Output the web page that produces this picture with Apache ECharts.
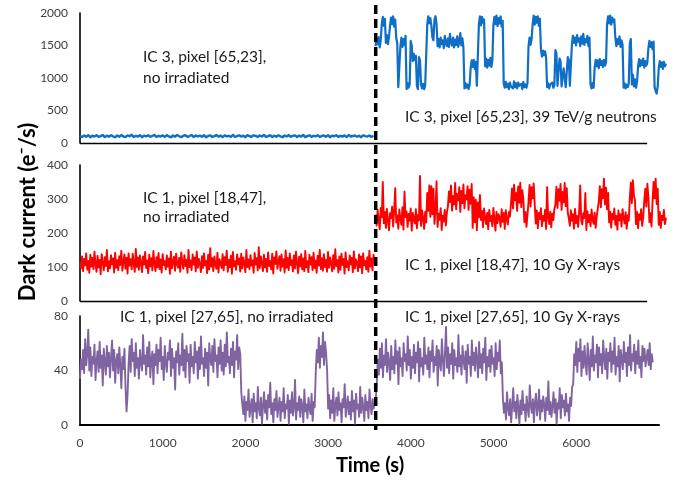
<!DOCTYPE html>
<html>
<head>
<meta charset="utf-8">
<script src="https://cdn.jsdelivr.net/npm/echarts@6/dist/echarts.min.js"></script>
<style>
  html, body { margin: 0; padding: 0; background: #fff; }
  #chart { width: 684px; height: 483px; }
</style>
</head>
<body>
<div id="chart"></div>
<script>
// Readings are evenly spaced. The unirradiated IC 3 run is stored every 25 s,
// every other trace every 12.5 s.
const coarseStep = 25;
const fineStep = 12.5;
const preStart = 0;
const postStart = 3575;
const dividerTime = 3575;
// the upper two panels draw their time baseline only up to here
const upperBaselineEnd = 6860;

const timeTicks = [0, 1000, 2000, 3000, 4000, 5000, 6000];

// IC 3, pixel [65,23] (e-/s), not irradiated, 25 s spacing
const ic3Before = [
  108,92,115,96,121,88,112,99,118,94,
  106,124,90,113,97,119,102,87,116,95,
  122,100,91,117,105,126,93,110,98,120,
  89,114,103,118,96,108,125,92,111,99,
  117,94,121,101,88,115,97,123,104,90,
  112,119,95,107,124,91,116,100,113,96,
  120,87,109,118,93,106,122,98,114,90,
  119,102,111,95,125,92,108,117,99,113,
  89,121,104,96,118,110,93,116,100,123,
  94,107,120,91,112,97,119,103,88,115,
  101,122,96,109,117,92,114,99,124,90,
  106,118,95,111,102,120,93,108,116,97,
  121,89,113,104,119,94,110,98,117,92,
  123,100,107,115,96,112,90,118,105,99,
  116,94,111
];
// IC 3, pixel [65,23] (e-/s), 39 TeV/g neutrons, 12.5 s spacing
const ic3After = [
  1490,1610,1520,1630,1470,1580,
  1830,1940,1800,1910,
  1540,1660,1520,1630,
  1800,1930,1830,1950,1790,1900,
  1620,1530,
  860,830,1480,
  1620,1480,1600,1510,1650,
  830,920,850,900,
  1570,1500,
  1260,1370,1280,1340,
  880,830,1320,1270,900,840,910,830,880,850,
  1820,1950,1840,1920,1810,1620,1580,1900,1950,1830,
  1490,1600,1470,1620,1520,1580,1460,1650,1530,1490,1610,1480,1680,
  1540,1500,1620,1470,1590,1510,1640,1480,1560,1690,1500,1610,1470,
  840,920,850,900,830,890,
  1150,1270,1170,1280,1140,1250,
  880,850,
  1830,1950,1810,1940,1850,1900,
  1180,1300,1160,1280,1190,1310,1170,1260,
  1810,1940,1830,1960,1800,1920,1840,1950,1790,1880,
  920,850,940,860,910,830,930,870,900,840,950,860,
  920,840,930,880,850,910,830,940,860,900,850,920,
  1490,1620,1510,1600,
  1830,1960,1820,1940,1850,1950,1800,1910,
  1440,1330,1420,1350,1410,1320,
  860,920,840,900,870,930,850,890,
  1430,1380,880,860,1300,1260,870,900,1150,1180,860,880,1320,1280,880,850,
  1520,1650,1540,1620,1500,1660,1560,1610,1490,
  1640,1530,1680,1510,1600,1550,1650,1490,1620,
  900,840,920,850,
  1160,1280,1180,1270,1150,1290,1200,1260,1170,1280,1190,1240,
  1830,1950,1840,1960,1820,1930,1860,1900,
  1620,1490,1600,1520,1640,1480,1580,1510,
  850,920,840,900,860,910,
  1530,1600,
  900,1050,870,980,850,940,
  1170,1290,1180,1270,1200,1300,1160,1260,1190,1240,
  1460,1570,1480,1550,1440,1560,
  860,800,760,870,
  1150,1260,1170,1240,1140,1250,1180,1220
];

// IC 1, pixel [18,47] (e-/s), not irradiated, 12.5 s spacing
const ic1aBefore = [
  112,96,131,88,124,105,140,92,118,83,136,101,
  127,94,145,109,86,133,99,121,79,138,114,90,
  129,103,150,87,117,96,135,108,125,84,142,98,
  120,91,132,106,148,89,115,137,95,127,81,140,
  104,123,93,139,110,86,153,100,128,92,134,113,
  85,131,107,144,97,119,82,136,102,126,90,147,
  111,88,129,99,141,94,122,84,138,106,117,93,
  134,101,125,80,145,96,116,130,89,139,108,98,
  127,86,143,112,95,135,103,121,83,150,100,119,
  91,137,107,128,87,146,98,124,110,85,132,97,
  140,104,118,82,136,93,155,101,126,88,131,109,
  95,142,84,123,113,97,138,90,129,106,148,86,
  121,99,133,80,144,102,117,92,137,108,125,87,
  139,96,128,111,85,150,100,122,94,135,104,119,
  83,141,107,126,90,158,97,131,112,88,136,99,
  124,86,143,103,118,93,139,81,128,109,146,95,
  115,132,89,137,101,123,84,149,98,127,91,140,
  106,120,87,134,96,145,110,82,130,102,138,93,
  125,88,147,99,117,85,136,107,129,91,142,97,
  119,83,133,104,150,94,126,89,138,100,121,86,
  144,98,128,111,87,135,95,152,103,120,84,131,
  92,139,106,124,81,143,100,117,90,134,108,127,
  85,146,96,122,113,88,137,99,131,82,140,105,
  118,93,129,86,148,101,125,90,136,110
];
// IC 1, pixel [18,47] (e-/s), 10 Gy X-rays, 12.5 s spacing
const ic1aAfter = [
  255,222,268,238,211,274,246,350,229,262,215,271,
  236,208,258,244,277,219,265,332,231,252,213,269,
  240,224,276,210,322,247,263,218,256,236,272,207,
  259,243,228,270,214,253,237,368,221,266,245,212,
  262,231,318,265,340,248,338,255,330,227,264,352,
  218,257,239,273,209,251,234,268,222,260,
  278,322,291,340,266,309,284,347,270,315,296,335,
  262,324,288,343,273,311,299,338,268,327,286,344,
  215,305,232,298,208,290,246,312,
  238,265,217,272,244,226,259,211,268,235,250,220,274,241,207,
  263,229,255,246,218,270,233,259,212,267,240,225,262,248,
  285,331,272,342,296,318,265,337,289,348,276,326,300,
  232,262,218,254,
  290,341,278,335,302,346,285,
  228,266,214,259,241,273,220,250,236,268,212,335,247,226,263,217,257,238,270,
  283,336,274,329,295,344,268,321,290,347,279,332,260,
  243,221,267,236,255,213,271,229,250,218,262,340,238,225,258,
  244,318,209,264,232,253,220,269,239,227,260,215,248,272,
  292,338,276,329,302,360,284,333,270,318,
  231,263,216,257,240,272,224,250,210,266,237,255,219,270,245,228,261,213,252,236,
  300,348,288,355,310,296,
  226,262,214,255,239,270,221,248,
  295,330,278,345,305,
  232,258,219,
  290,350,302,360,285,330,
  224,262,215,251,238,268,226,245
];

// IC 1, pixel [27,65] (e-/s), not irradiated, 12.5 s spacing
const ic1bBefore = [
  34,48,41,55,38,63,44,52,70,40,57,36,
  50,45,59,33,47,54,39,61,42,51,29,56,
  46,37,58,43,53,35,49,62,40,55,31,47,
  52,38,57,44,27,50,41,56,28,10,22,45,
  58,39,63,47,53,36,60,42,49,34,55,46,
  40,66,45,51,37,57,43,61,35,48,54,30,
  52,44,59,38,55,47,64,41,50,33,58,45,
  39,53,48,62,36,56,42,49,26,54,46,60,
  37,51,44,67,40,55,35,58,47,52,31,59,
  43,50,38,61,46,54,34,57,41,65,45,49,
  36,56,42,53,29,60,48,44,58,39,63,47,
  51,35,57,45,62,40,53,37,59,43,68,46,
  50,38,56,44,61,35,54,48,66,41,57,52,
  24,
  15,8,21,3,17,11,26,6,13,19,2,23,
  10,16,5,28,12,7,20,1,14,24,9,18,
  4,22,13,31,8,16,2,19,11,25,6,14,
  20,3,17,10,27,5,15,12,22,1,18,9,
  24,7,13,33,4,16,11,21,6,19,14,2,
  26,10,15,5,20,12,8,23,3,17,13,
  38,55,46,64,42,58,50,68,44,61,53,40,
  12,22,5,18,9,27,3,15,20,7,24,11,
  16,2,19,13,30,6,14,21,8,17,4,25,
  10,18,1,23,12,15,6,28,9,20,13,3,
  22,11,17,5,26,14,8,19,12,16
];
// IC 1, pixel [27,65] (e-/s), 10 Gy X-rays, 12.5 s spacing
const ic1bAfter = [
  18,30,
  48,37,56,42,60,35,51,44,63,39,53,46,
  33,58,41,50,38,62,45,54,30,57,43,49,
  36,60,47,52,40,65,44,55,34,50,42,59,
  38,53,46,61,32,56,43,49,37,64,45,51,
  41,57,35,54,47,62,39,50,44,58,29,55,
  46,40,63,48,36,53,72,42,57,38,52,45,
  60,34,55,44,49,39,66,43,51,37,58,47,
  41,54,31,59,45,50,36,62,44,53,40,57,
  48,35,61,42,52,38,56,46,64,33,50,43,
  55,39,58,45,49,36,60,41,53,47,62,38,
  46,
  20,9,16,4,24,12,7,19,2,14,27,10,
  17,5,22,13,1,18,8,25,11,15,3,21,
  12,6,29,14,9,19,2,16,23,7,13,26,
  4,18,10,21,15,3,20,11,32,8,17,6,
  14,24,9,19,1,16,12,27,5,22,13,18,
  7,23,10,15,3,20,14,28,
  30,52,44,61,39,56,47,63,36,54,42,58,
  45,37,60,48,33,55,43,65,40,51,46,59,
  35,57,44,52,38,62,49,41,56,34,53,47,
  60,39,54,45,64,37,50,43,58,32,55,48,
  41,61,46,53,36,57,44,66,40,52,47,59,
  38,54,45,62,42,50,35,58,47,56,43,49,
  55,44,60,41,52,46
];

const panelTicks = {
  ic3: { max: 2000, step: 500 },
  ic1a: { max: 400, step: 100 },
  ic1b: { max: 80, step: 40 }
};

function toPoints(start, step, values) {
  return values.map((v, i) => [start + i * step, v]);
}

const FONT = 'Lato, "Open Sans", sans-serif';
const BLUE = '#0f6fc6';
const RED = '#ff0000';
const PURPLE = '#8064a2';

const chart = echarts.init(document.getElementById('chart'), null, { renderer: 'canvas' });

function yAxisFor(gridIndex, t) {
  return {
    type: 'value', gridIndex, min: 0, max: t.max, interval: t.step,
    axisLine: { show: true, lineStyle: { color: '#000', width: 1.6 } },
    axisTick: { show: false },
    splitLine: { show: false },
    axisLabel: {
      color: '#404040', fontFamily: FONT, fontSize: 12, margin: 12,
      formatter: v => String(v)
    }
  };
}
function xAxisFor(gridIndex, max, labels) {
  return {
    type: 'value', gridIndex, min: 0, max, interval: 1000,
    axisLine: { show: labels, onZero: true, lineStyle: { color: '#000', width: 2 } },
    axisTick: { show: false },
    splitLine: { show: false },
    axisLabel: labels ? {
      show: true, color: '#404040', fontFamily: FONT, fontSize: 12, margin: 12,
      showMaxLabel: false,
      formatter: v => (timeTicks.indexOf(v) >= 0 ? String(v) : '')
    } : { show: false }
  };
}
function lineSeries(idx, start, step, values, color, width, baseline) {
  const s = {
    type: 'line', xAxisIndex: idx, yAxisIndex: idx,
    data: toPoints(start, step, values),
    showSymbol: false, symbol: 'none', clip: false, sampling: null,
    lineStyle: { color, width, join: 'round' }, silent: true, animation: false
  };
  if (baseline) {
    s.markLine = {
      silent: true, symbol: 'none', animation: false,
      label: { show: false },
      lineStyle: { color: '#000', width: 1.4, type: 'solid' },
      emphasis: { disabled: true },
      data: [[{ coord: [0, 0] }, { coord: [upperBaselineEnd, 0] }]]
    };
  }
  return s;
}

function label(text, x, y) {
  return {
    type: 'text', x, y, z: 50,
    style: { text, fill: '#1a1a1a', font: '15.5px ' + FONT, textVerticalAlign: 'middle' }
  };
}

const option = {
  animation: false,
  backgroundColor: '#fff',
  grid: [
    { left: 80, top: 13, width: 587, height: 130 },
    { left: 80, top: 165, width: 587, height: 136 },
    { left: 80, top: 316, width: 579, height: 109 }
  ],
  xAxis: [
    xAxisFor(0, 7100, false),
    xAxisFor(1, 7100, false),
    xAxisFor(2, 7000, true)
  ],
  yAxis: [
    yAxisFor(0, panelTicks.ic3),
    yAxisFor(1, panelTicks.ic1a),
    yAxisFor(2, panelTicks.ic1b)
  ],
  series: [
    lineSeries(0, preStart, coarseStep, ic3Before, BLUE, 2.4, true),
    lineSeries(0, postStart, fineStep, ic3After, BLUE, 2.2),
    lineSeries(1, preStart, fineStep, ic1aBefore, RED, 1.9, true),
    lineSeries(1, postStart, fineStep, ic1aAfter, RED, 1.9),
    lineSeries(2, preStart, fineStep, ic1bBefore, PURPLE, 1.9),
    lineSeries(2, postStart, fineStep, ic1bAfter, PURPLE, 1.9)
  ],
  graphic: [
    label('IC 3, pixel [65,23],', 143, 57),
    label('no irradiated', 143, 78),
    label('IC 3, pixel [65,23], 39 TeV/g neutrons', 405, 117),
    label('IC 1, pixel [18,47],', 143, 198),
    label('no irradiated', 143, 217),
    label('IC 1, pixel [18,47], 10 Gy X-rays', 405, 265),
    label('IC 1, pixel [27,65], no irradiated', 120, 317),
    label('IC 1, pixel [27,65], 10 Gy X-rays', 405, 317),
    {
      type: 'text', x: 28, y: 212, rotation: Math.PI / 2, z: 50,
      style: {
        text: 'Dark current (e\u207B/s)', fill: '#000',
        font: 'bold 22px ' + FONT, textAlign: 'center', textVerticalAlign: 'middle'
      }
    },
    {
      type: 'text', x: 370, y: 466, z: 50,
      style: {
        text: 'Time (s)', fill: '#000',
        font: 'bold 20px ' + FONT, textAlign: 'center', textVerticalAlign: 'middle'
      }
    }
  ]
};

chart.setOption(option);

// Vertical dashed divider at the irradiation step, spanning all three panels.
const dx = chart.convertToPixel({ xAxisIndex: 2 }, dividerTime);
const dTop = chart.convertToPixel({ yAxisIndex: 0 }, panelTicks.ic3.max) - 8;
const dBottom = chart.convertToPixel({ yAxisIndex: 2 }, 0) + 5;
chart.setOption({
  graphic: [{
    id: 'divider', type: 'line', z: 60,
    shape: { x1: dx, y1: dTop, x2: dx, y2: dBottom },
    style: { stroke: '#000', lineWidth: 3.5, lineDash: [9, 5] }
  }]
});
</script>
</body>
</html>
